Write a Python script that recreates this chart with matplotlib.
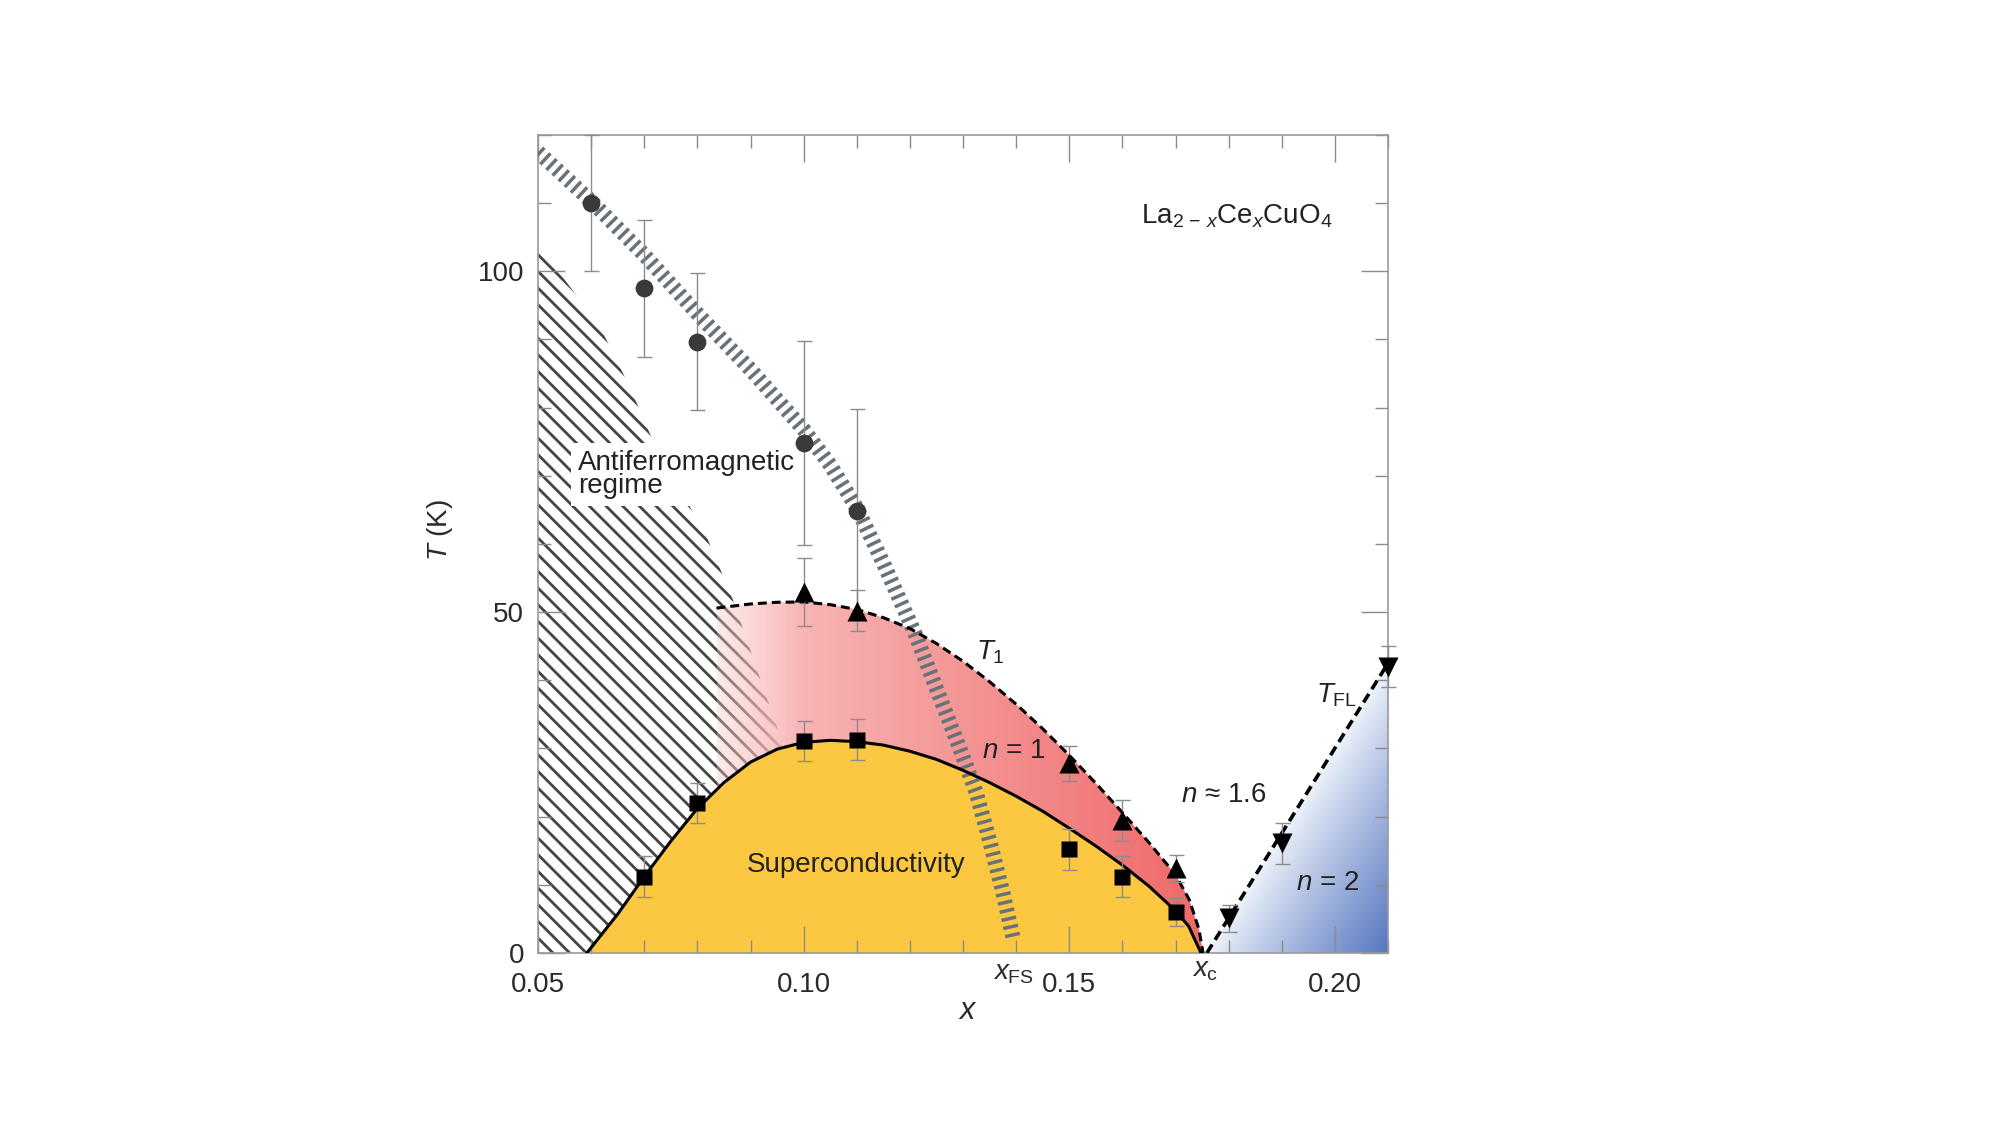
import numpy as np
import matplotlib
matplotlib.use('Agg')
import matplotlib.pyplot as plt
from matplotlib.patches import Polygon
from matplotlib.ticker import MultipleLocator, FixedLocator
import matplotlib.transforms as mtransforms

plt.rcParams['font.family'] = ['Liberation Sans', 'DejaVu Sans']
plt.rcParams['mathtext.fontset'] = 'custom'
plt.rcParams['mathtext.rm'] = 'Liberation Sans'
plt.rcParams['mathtext.it'] = 'Liberation Sans:italic'
plt.rcParams['mathtext.bf'] = 'Liberation Sans:bold'
plt.rcParams['lines.scale_dashes'] = False
plt.rcParams['hatch.linewidth'] = 1.0

# ---------------- data ----------------
afm_x = [0.06, 0.07, 0.08, 0.10, 0.11]
afm_T = [110.0, 97.5, 89.7, 74.8, 64.8]
afm_err = [10, 10, 10, 15, 15]

tc_x = [0.07, 0.08, 0.10, 0.11, 0.15, 0.16, 0.17]
tc_T = [11.2, 22.0, 31.1, 31.3, 15.2, 11.2, 6.0]
tc_err = [3, 3, 3, 3, 3, 3, 2]

t1_x = [0.10, 0.11, 0.15, 0.16, 0.17]
t1_T = [52.9, 50.2, 27.8, 19.5, 12.4]
t1_err = [5, 3, 2.5, 3, 2]

tfl_x = [0.18, 0.19, 0.21]
tfl_T = [5.1, 16.1, 42.0]
tfl_err = [2, 3, 3]

# phase boundaries
tc_curve_x = [0.0592, 0.065, 0.070, 0.075, 0.080, 0.085, 0.090, 0.095, 0.100, 0.105,
              0.110, 0.115, 0.120, 0.125, 0.130, 0.135, 0.140, 0.145, 0.150, 0.155,
              0.160, 0.165, 0.170, 0.1725, 0.1748]
tc_curve_T = [0.0, 5.7, 11.2, 16.4, 21.2, 25.0, 28.0, 29.9, 30.9, 31.2,
              31.0, 30.5, 29.6, 28.4, 26.8, 25.0, 23.0, 20.8, 18.3, 15.7,
              12.9, 9.8, 6.2, 3.9, 0.0]

t1_curve_x = [0.0836, 0.090, 0.095, 0.100, 0.105, 0.110, 0.115, 0.120, 0.125, 0.130,
              0.135, 0.140, 0.145, 0.150, 0.155, 0.160, 0.165, 0.170, 0.1726, 0.1744,
              0.1752]
t1_curve_T = [50.6, 51.2, 51.45, 51.5, 51.1, 50.4, 49.2, 47.6, 45.4, 42.8,
              39.8, 36.5, 32.9, 29.0, 24.9, 20.6, 16.2, 11.5, 7.8, 3.5,
              0.0]

tfl_line_x = [0.1759, 0.21]
tfl_line_T = [0.0, 42.5]

xfs_x = [0.05, 0.06, 0.07, 0.08, 0.09, 0.10, 0.105, 0.11, 0.115, 0.121, 0.1256,
         0.1293, 0.1325, 0.135, 0.1374, 0.1395]
xfs_T = [117.5, 110.3, 102.4, 93.8, 85.6, 76.8, 71.6, 65.3, 57.2, 46.8, 37.6,
         30.2, 23.5, 16.5, 9.2, 2.0]

afm_edge_x = [0.05, 0.0617, 0.0673, 0.0716, 0.0818, 0.0867, 0.0955, 0.104, 0.109]
afm_edge_T = [104.0, 91.8, 83.0, 75.2, 61.0, 51.8, 32.0, 12.0, 0.0]

x_ticks = [0.05, 0.10, 0.15, 0.20]
x_ticklabels = ['0.05', '0.10', '0.15', '0.20']
y_ticks = [0, 50, 100]
y_ticklabels = ['0', '50', '100']

# ---------------- figure ----------------
fig = plt.figure(figsize=(10, 5.625), dpi=200)
ax = fig.add_axes([0.269, 0.1529, 0.425, 0.7271])

# antiferromagnetic hatched region
afm_poly = Polygon(list(zip(afm_edge_x, afm_edge_T)) + [(afm_edge_x[0], 0.0)],
                   closed=True, facecolor='none', edgecolor='#444444', lw=0,
                   hatch='\\\\\\\\', zorder=1.0)
ax.add_patch(afm_poly)

# pink (n = 1) region with horizontal gradient
pink_poly = Polygon(list(zip(t1_curve_x, t1_curve_T)) +
                    [(t1_curve_x[-1], 0.0), (t1_curve_x[0], 0.0)],
                    closed=True, transform=ax.transData)
gx = np.linspace(t1_curve_x[0], t1_curve_x[-1], 400)
frac = (gx - gx[0]) / (gx[-1] - gx[0])
c_left = np.array([250, 196, 196]) / 255.0
c_right = np.array([239, 104, 104]) / 255.0
rgb = c_left[None, :] * (1 - frac[:, None]) + c_right[None, :] * frac[:, None]
alpha = np.clip(0.35 + (gx - gx[0]) / 0.016 * 0.65, 0, 1)
img = np.zeros((2, gx.size, 4))
img[..., :3] = rgb[None, :, :]
img[..., 3] = alpha[None, :]
im = ax.imshow(img, extent=[gx[0], gx[-1], 0, max(t1_curve_T) + 1], origin='lower',
               aspect='auto', interpolation='bilinear', zorder=1.2)
im.set_clip_path(pink_poly)

# superconducting dome
ax.fill_between(tc_curve_x, 0, tc_curve_T, color='#FCC842', lw=0, zorder=1.4)

# blue Fermi-liquid region with diagonal gradient
blue_poly = Polygon([(tfl_line_x[0], 0.0), (tfl_line_x[1], tfl_line_T[1]), (tfl_line_x[1], 0.0)],
                    closed=True, transform=ax.transData)
bx = np.linspace(tfl_line_x[0], tfl_line_x[1], 300)
bT = np.linspace(0, tfl_line_T[1], 300)
BX, BT = np.meshgrid(bx, bT)
slope = (tfl_line_T[1] - tfl_line_T[0]) / (tfl_line_x[1] - tfl_line_x[0])
dd = (slope * (BX - tfl_line_x[0]) - BT) / (slope * (tfl_line_x[1] - tfl_line_x[0]))
dd = np.clip(dd, 0, 1) ** 0.9
light = np.array([238, 243, 250]) / 255.0
dark = np.array([86, 118, 192]) / 255.0
bimg = light[None, None, :] * (1 - dd[..., None]) + dark[None, None, :] * dd[..., None]
bim = ax.imshow(bimg, extent=[bx[0], bx[-1], 0, bT[-1]], origin='lower',
                aspect='auto', interpolation='bilinear', zorder=1.3)
bim.set_clip_path(blue_poly)

# x_FS band
ax.plot(xfs_x, xfs_T, color='#6a7279', lw=5.4, dashes=(1.25, 1.75),
        dash_capstyle='butt', solid_capstyle='butt', zorder=3)

# boundary lines
ax.plot(t1_curve_x, t1_curve_T, color='k', lw=1.1, dashes=(3.2, 1.8), zorder=4)
ax.plot(tc_curve_x, tc_curve_T, color='k', lw=1.1, zorder=4)
ax.plot(tfl_line_x, tfl_line_T, color='k', lw=1.3, dashes=(3.6, 2.0), zorder=4)

# error bars and markers
eb_kw = dict(fmt='none', ecolor='#8c8c8c', elinewidth=0.5, capsize=2.7, capthick=0.5,
             zorder=5, clip_on=False)
ax.errorbar(afm_x, afm_T, yerr=afm_err, **eb_kw)
ax.errorbar(tc_x, tc_T, yerr=tc_err, **eb_kw)
ax.errorbar(t1_x, t1_T, yerr=t1_err, **eb_kw)
ax.errorbar(tfl_x, tfl_T, yerr=tfl_err, **eb_kw)

ax.plot(afm_x, afm_T, 'o', ms=6.4, color='#3a3a3a', mec='none', zorder=6, clip_on=False)
ax.plot(tc_x, tc_T, 's', ms=6.0, color='k', mec='none', zorder=6, clip_on=False)
ax.plot(t1_x, t1_T, '^', ms=7.4, color='k', mec='none', zorder=6, clip_on=False)
ax.plot(tfl_x, tfl_T, 'v', ms=7.0, color='k', mec='none', zorder=6, clip_on=False)

# axes styling
ax.set_xlim(0.05, 0.21)
ax.set_ylim(0, 120)
ax.xaxis.set_major_locator(FixedLocator(x_ticks))
ax.set_xticklabels(x_ticklabels)
ax.xaxis.set_minor_locator(MultipleLocator(0.01))
ax.yaxis.set_major_locator(FixedLocator(y_ticks))
ax.set_yticklabels(y_ticklabels)
ax.yaxis.set_minor_locator(MultipleLocator(10))
ax.tick_params(which='both', direction='in', top=True, right=True,
               color='#8a8a8a', width=0.5, labelsize=10, labelcolor='#2a2a2a')
ax.tick_params(which='major', length=9.7)
ax.tick_params(which='minor', length=4.7)
ax.tick_params(axis='x', which='major', pad=7)
ax.tick_params(axis='y', which='major', pad=5)
for s in ax.spines.values():
    s.set_color('#9a9a9a')
    s.set_linewidth(0.6)

# axis labels
ax.text(0.505, -0.0709, r'$x$', transform=ax.transAxes, ha='center', va='center',
        fontsize=11, color='#2a2a2a')
ax.text(-0.115, 0.517, r'$T$ (K)', transform=ax.transAxes, rotation=90,
        ha='center', va='center', fontsize=10, color='#2a2a2a')

trans = mtransforms.blended_transform_factory(ax.transData, ax.transAxes)
ax.text(0.1395, -0.033, r'$x_{\rm FS}$', transform=trans, ha='center', va='baseline',
        fontsize=10, color='#2a2a2a')
ax.text(0.1756, -0.029, r'$x_{\rm c}$', transform=trans, ha='center', va='baseline',
        fontsize=10, color='#2a2a2a')

# annotations
txt_color = '#222222'
ax.text(0.1635, 107.0, r'La$_{2\,-\,x}$Ce$_x$CuO$_4$', ha='left', va='baseline',
        fontsize=10, color=txt_color, zorder=7)
ax.text(0.0575, 67.5, 'Antiferromagnetic\nregime', ha='left', va='baseline',
        fontsize=10, linespacing=0.83, color=txt_color, zorder=2,
        bbox=dict(boxstyle='square,pad=0.25', fc='white', ec='none'))
ax.text(0.0893, 11.9, 'Superconductivity', ha='left', va='baseline',
        fontsize=10, color=txt_color, zorder=7)
ax.text(0.1325, 43.0, r'$T_1$', ha='left', va='baseline', fontsize=10,
        color=txt_color, zorder=7)
ax.text(0.1335, 28.6, r'$n$ = 1', ha='left', va='baseline', fontsize=10,
        color=txt_color, zorder=7)
ax.text(0.171, 22.1, r'$n$ ≈ 1.6', ha='left', va='baseline', fontsize=10,
        color=txt_color, zorder=7)
ax.text(0.1964, 36.8, r'$T_{\rm FL}$', ha='left', va='baseline', fontsize=10,
        color=txt_color, zorder=7)
ax.text(0.1927, 9.2, r'$n$ = 2', ha='left', va='baseline', fontsize=10,
        color=txt_color, zorder=7)

fig.savefig('out.png', dpi=200, facecolor='white')
